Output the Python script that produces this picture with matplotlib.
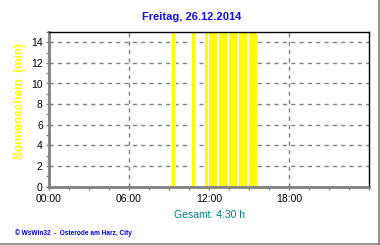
import matplotlib
matplotlib.use("Agg")
import matplotlib.pyplot as plt
from matplotlib.lines import Line2D
from matplotlib.ticker import MultipleLocator

# Data: sunshine bars (start hour, width in hours, value in minutes)
bar_start = [9.13, 10.63, 11.60, 11.90, 12.65, 13.40, 14.15, 14.90]
bar_width = [0.30, 0.30, 0.30, 0.73, 0.73, 0.73, 0.73, 0.73]
bar_value = [15, 15, 15, 15, 15, 15, 15, 15]

x_ticks = [0, 6, 12, 18]
x_labels = ["00:00", "06:00", "12:00", "18:00"]
y_ticks = [0, 2, 4, 6, 8, 10, 12, 14]

title = "Freitag, 26.12.2014"
ylabel = "Sonnenschein  (min)"
total_text = "Gesamt: 4:30 h"
footer = "\u00a9 WsWin32  -  Osterode am Harz, City"

plt.rcParams['font.family'] = ['Liberation Sans', 'DejaVu Sans']

fig = plt.figure(figsize=(3.8, 2.45), dpi=100)
fig.patch.set_facecolor("white")
ax = fig.add_axes([49/380, 1-186.5/245, (369-49)/380, (186.5-32)/245])

ax.bar(bar_start, bar_value, width=bar_width, align='edge', color='#FFFF00',
       edgecolor='white', linewidth=0.6, zorder=3, antialiased=False)

ax.set_xlim(0, 24)
ax.set_ylim(0, 15)
ax.set_xticks(x_ticks)
ax.set_xticklabels(x_labels)
ax.set_yticks(y_ticks)
ax.xaxis.set_minor_locator(MultipleLocator(1.5))
ax.yaxis.set_minor_locator(MultipleLocator(1))

ax.grid(True, which='major', color='#808080', linestyle=(0, (3, 3)), linewidth=1.0, zorder=1)

for s in ['left', 'bottom']:
    ax.spines[s].set_color('#808080')
    ax.spines[s].set_linewidth(2.0)
    ax.spines[s].set_zorder(5)
for s in ['top', 'right']:
    ax.spines[s].set_color('black')
    ax.spines[s].set_linewidth(1.0)
    ax.spines[s].set_zorder(5)

ax.tick_params(which='major', direction='inout', length=5, width=1, color='#808080',
               labelsize=7.5, labelcolor='black', pad=2)
ax.tick_params(which='minor', direction='out', length=2.5, width=1, color='#808080')
ax.tick_params(axis='x', which='major', pad=3)

fig.text(192/380, 1-17.5/245, title, ha='center', va='center', color='#1010E0',
         fontsize=8, fontweight='bold')
fig.text(20/380, 1-101/245, ylabel, ha='center', va='center', rotation=90,
         color='#FFFF00', fontsize=8.5, fontweight='bold')
fig.text(209/380, 1-215/245, total_text, ha='center', va='center', color='#008080',
         fontsize=7.5)
fig.text(15/380, 1-233.5/245, footer, ha='left', va='center', color='#0000E0',
         fontsize=4.7, fontweight='bold')

fig.add_artist(Line2D([378.5/380, 378.5/380], [1.0, 1-243.5/245], transform=fig.transFigure,
                      color='#808080', linewidth=1.2))
fig.add_artist(Line2D([0, 378.5/380], [1-243.5/245, 1-243.5/245], transform=fig.transFigure,
                      color='#808080', linewidth=1.2))

fig.savefig("out.png", dpi=100, facecolor="white")
